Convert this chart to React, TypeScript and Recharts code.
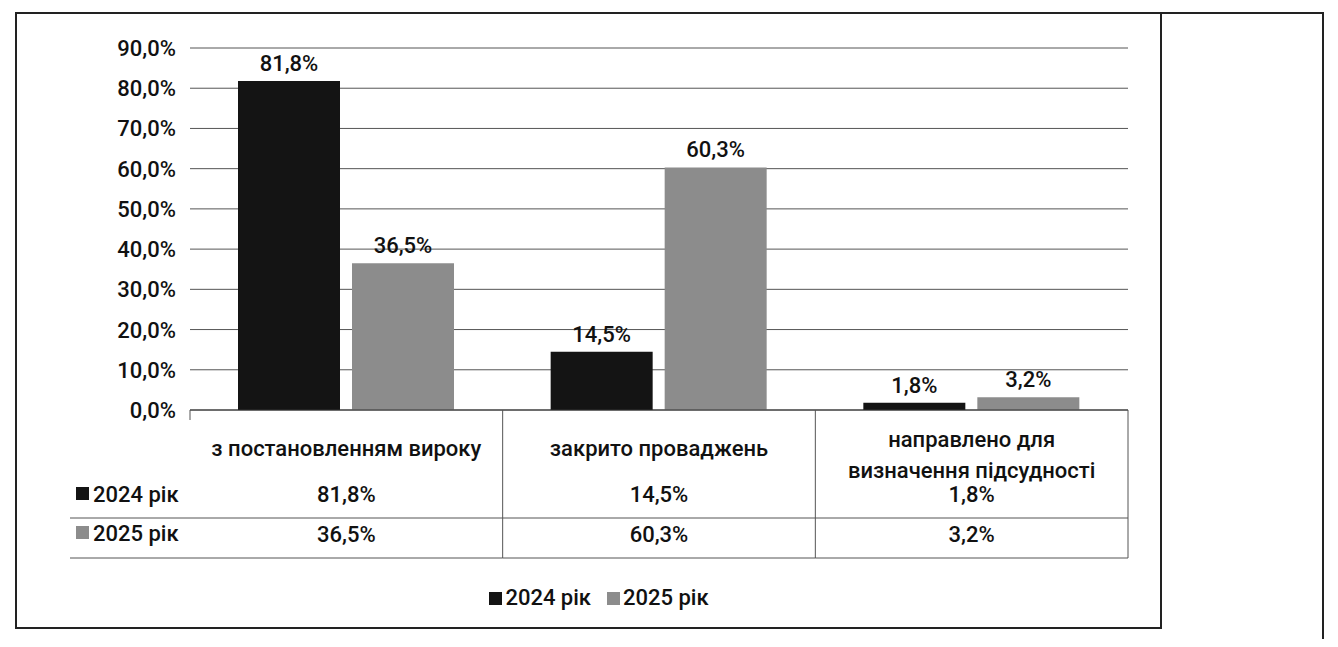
import React from 'react';
import { BarChart, Bar, XAxis, YAxis, CartesianGrid, LabelList, Legend } from 'recharts';

const categories = ['з постановленням вироку', 'закрито проваджень', 'направлено для визначення підсудності'];
const categoryLines = [['з постановленням вироку'], ['закрито проваджень'], ['направлено для', 'визначення підсудності']];
const series2024 = [81.8, 14.5, 1.8];
const series2025 = [36.5, 60.3, 3.2];
const yTicks = [0, 10, 20, 30, 40, 50, 60, 70, 80, 90];
const seriesNames = ['2024 рік', '2025 рік'];
const seriesColors = ['#141414', '#8c8c8c'];

const data = categories.map((c, i) => ({ name: c, y2024: series2024[i], y2025: series2025[i] }));

const fmt = (v: number) => v.toFixed(1).replace('.', ',') + '%';
const FONT = 'Roboto, "Noto Sans", sans-serif';
const FS = 22;
const FW = 500;

const PLOT_LEFT = 190;
const PLOT_RIGHT = 1128;
const BAND = (PLOT_RIGHT - PLOT_LEFT) / 3;

const YTick = (props: any) => {
  const { y, payload } = props;
  return (
    <text x={176} y={y} dy={8} textAnchor="end" fontSize={FS} fontWeight={FW} fontFamily={FONT} fill="#111">
      {fmt(payload.value)}
    </text>
  );
};

const XTick = (props: any) => {
  const { x, y, index } = props;
  const lines = categoryLines[index];
  const left = x - BAND / 2;
  const right = x + BAND / 2;
  const top = y - 8;
  const lineColor = '#555';
  return (
    <g fontFamily={FONT} fill="#111" fontSize={FS} fontWeight={FW}>
      {lines.map((l, k) => (
        <text key={k} x={x} y={lines.length === 1 ? top + 46 : top + 37 + k * 31} textAnchor="middle">
          {l}
        </text>
      ))}
      <text x={x} y={top + 92} textAnchor="middle">{fmt(series2024[index])}</text>
      <text x={x} y={top + 132} textAnchor="middle">{fmt(series2025[index])}</text>
      {index === 0 && <line x1={left} x2={left} y1={top} y2={top + 10} stroke={lineColor} />}
      <line x1={right} x2={right} y1={top} y2={top + 148} stroke={lineColor} />
      {index === 0 && (
        <g>
          <rect x={76} y={top + 77} width={13} height={13} fill={seriesColors[0]} />
          <text x={93} y={top + 92}>{seriesNames[0]}</text>
          <rect x={76} y={top + 116} width={13} height={13} fill={seriesColors[1]} />
          <text x={93} y={top + 131}>{seriesNames[1]}</text>
        </g>
      )}
      <line x1={index === 0 ? 70 : left} x2={right} y1={top + 108} y2={top + 108} stroke={lineColor} />
      <line x1={index === 0 ? 70 : left} x2={right} y1={top + 148} y2={top + 148} stroke={lineColor} />
    </g>
  );
};

const LegendContent = () => (
  <div style={{ display: 'flex', justifyContent: 'center', fontFamily: FONT, fontSize: FS, fontWeight: FW, color: '#111', lineHeight: '26px', paddingRight: 20 }}>
    {seriesNames.map((n, i) => (
      <span key={n} style={{ display: 'inline-flex', alignItems: 'center', marginRight: i === 0 ? 16 : 0 }}>
        <span style={{ display: 'inline-block', width: 13, height: 13, background: seriesColors[i], marginRight: 3 }} />
        {n}
      </span>
    ))}
  </div>
);

export default function App() {
  return (
    <div style={{ position: 'relative', width: 1338, height: 647, margin: -8, background: '#fff', overflow: 'hidden' }}>
      <div style={{ position: 'absolute', left: 15, top: 12, width: 1147, height: 617, border: '2px solid #222', boxSizing: 'border-box' }} />
      <div style={{ position: 'absolute', left: 1160, top: 12, width: 164, height: 628, borderTop: '2px solid #222', borderRight: '2px solid #222', boxSizing: 'border-box' }} />
      <div style={{ position: 'absolute', left: 0, top: 0 }}>
        <BarChart
          width={1338}
          height={647}
          data={data}
          margin={{ top: 48, right: 1338 - PLOT_RIGHT, bottom: 22, left: PLOT_LEFT - 100 }}
          barSize={102}
          barGap={12}
        >
          <CartesianGrid vertical={false} stroke="#555" />
          <YAxis
            width={100}
            domain={[0, 90]}
            ticks={yTicks}
            axisLine={false}
            tickLine={false}
            tick={<YTick />}
            interval={0}
          />
          <XAxis
            dataKey="name"
            height={175}
            interval={0}
            tickLine={false}
            axisLine={{ stroke: '#333' }}
            tick={<XTick />}
          />
          <Legend verticalAlign="bottom" height={40} content={<LegendContent />} />
          <Bar dataKey="y2024" name={seriesNames[0]} fill={seriesColors[0]} isAnimationActive={false}>
            <LabelList dataKey="y2024" position="top" offset={10} formatter={(v: any) => fmt(Number(v))} fontSize={FS} fontWeight={FW} fontFamily={FONT} fill="#111" />
          </Bar>
          <Bar dataKey="y2025" name={seriesNames[1]} fill={seriesColors[1]} isAnimationActive={false}>
            <LabelList dataKey="y2025" position="top" offset={10} formatter={(v: any) => fmt(Number(v))} fontSize={FS} fontWeight={FW} fontFamily={FONT} fill="#111" />
          </Bar>
        </BarChart>
      </div>
    </div>
  );
}
